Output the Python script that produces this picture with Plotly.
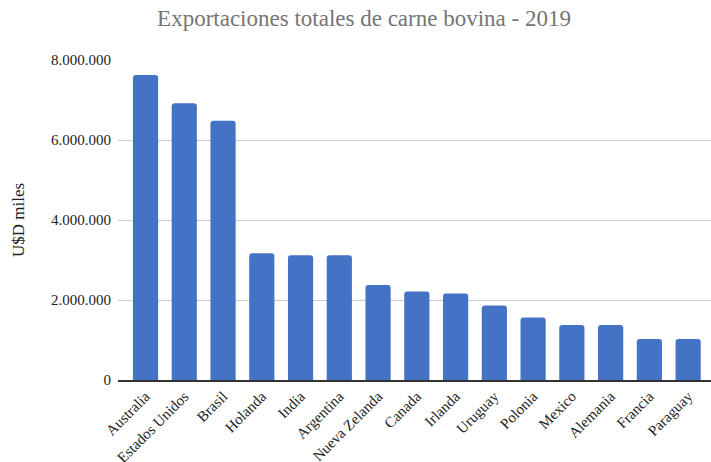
import plotly.graph_objects as go

# Exportaciones de carne bovina por país (miles de USD)
paises = ["Australia", "Estados Unidos", "Brasil", "Holanda", "India", "Argentina",
          "Nueva Zelanda", "Canada", "Irlanda", "Uruguay", "Polonia", "Mexico",
          "Alemania", "Francia", "Paraguay"]
exportaciones = [7625000, 6920000, 6480000, 3170000, 3120000, 3120000,
                 2375000, 2210000, 2160000, 1860000, 1560000, 1375000,
                 1375000, 1025000, 1025000]
y_ticks = [0, 2000000, 4000000, 6000000, 8000000]

serif = "Liberation Serif, Times New Roman, serif"

fig = go.Figure(go.Bar(
    x=paises,
    y=exportaciones,
    marker=dict(color="#4472C4", line=dict(width=0)),
))

fig.update_layout(
    width=711, height=462,
    margin=dict(l=118, r=0, t=60, b=82),
    paper_bgcolor="white", plot_bgcolor="white",
    separators=",.",
    bargap=0.35,
    barcornerradius=3,
    showlegend=False,
    title=dict(text="Exportaciones totales de carne bovina - 2019",
               x=0.512, xanchor="center", y=0.962, yanchor="middle",
               font=dict(family=serif, size=23, color="#757575")),
    font=dict(family=serif, color="#222222"),
)

fig.update_xaxes(
    range=[-0.71, 14.59],
    automargin=False,
    tickangle=-45,
    tickfont=dict(family=serif, size=15, color="#222222"),
    showgrid=False,
    showline=True, linecolor="#333333", linewidth=1.5,
    ticks="",
)

fig.update_yaxes(
    range=[0, 8000000],
    automargin=False,
    tickvals=y_ticks,
    tickformat=",d",
    tickfont=dict(family=serif, size=15, color="#222222"),
    ticklabelstandoff=6,
    gridcolor="#cccccc", gridwidth=1.2,
    zeroline=False,
    showline=False,
    ticks="", ticklen=0,
    title=dict(text="U$D miles", font=dict(family=serif, size=17, color="#222222"),
               standoff=22),
)

fig.write_html("out.html")
